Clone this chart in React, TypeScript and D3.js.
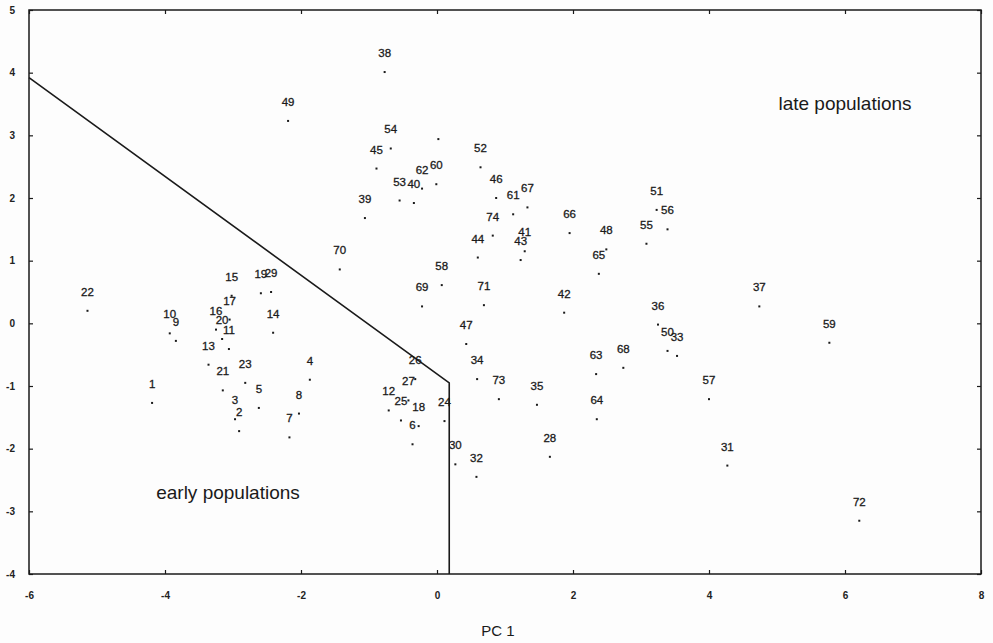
import React, { useEffect, useRef } from 'react';
import * as d3 from 'd3';

// population ids and their scores on the two first components
const ids = ['1', '2', '3', '4', '5', '6', '7', '8', '9', '10', '11', '12', '13', '14', '15', '16', '17', '18', '19', '20',
    '21', '22', '23', '24', '25', '26', '27', '28', '29', '30', '31', '32', '33', '34', '35', '36', '37', '38', '39', '40',
    '41', '42', '43', '44', '45', '46', '47', '48', '49', '50', '51', '52', '53', '54', '55', '56', '57', '58', '59', '60',
    '61', '62', '63', '64', '65', '66', '67', '68', '69', '70', '71', '72', '73', '74', ''];
const pc1 = [-4.19, -2.91, -2.97, -1.87, -2.62, -0.36, -2.17, -2.03, -3.84, -3.93, -3.06, -0.71, -3.36, -2.41, -3.02, -3.25, -3.05, -0.27, -2.59, -3.16,
    -3.15, -5.14, -2.82, 0.11, -0.53, -0.32, -0.42, 1.66, -2.44, 0.27, 4.27, 0.58, 3.53, 0.59, 1.47, 3.25, 4.74, -0.77, -1.06, -0.34,
    1.29, 1.87, 1.23, 0.60, -0.89, 0.87, 0.43, 2.49, -2.19, 3.39, 3.23, 0.64, -0.55, -0.68, 3.08, 3.39, 4.00, 0.07, 5.77, -0.01,
    1.12, -0.22, 2.34, 2.35, 2.38, 1.95, 1.33, 2.74, -0.22, -1.43, 0.69, 6.21, 0.91, 0.82, 0.02];
const pc2 = [-1.27, -1.72, -1.53, -0.90, -1.35, -1.93, -1.82, -1.44, -0.28, -0.16, -0.41, -1.39, -0.66, -0.15, 0.44, -0.10, 0.06, -1.64, 0.48, -0.25,
    -1.07, 0.20, -0.95, -1.56, -1.55, -0.89, -1.23, -2.13, 0.50, -2.25, -2.27, -2.45, -0.52, -0.89, -1.30, -0.02, 0.27, 4.01, 1.68, 1.92,
    1.15, 0.17, 1.01, 1.05, 2.47, 2.00, -0.33, 1.18, 3.23, -0.44, 1.81, 2.49, 1.96, 2.79, 1.27, 1.50, -1.21, 0.61, -0.31, 2.22,
    1.74, 2.15, -0.81, -1.53, 0.79, 1.44, 1.85, -0.71, 0.27, 0.86, 0.29, -3.15, -1.21, 1.40, 2.94];

// dividing line between early and late populations
const boundaryX = [-6, 0.18, 0.18];
const boundaryY = [3.92, -0.95, -4];

const xTicks = [-6, -4, -2, 0, 2, 4, 6, 8];
const yTicks = [-4, -3, -2, -1, 0, 1, 2, 3, 4, 5];

export default function App() {
    const ref = useRef<SVGSVGElement>(null);

    useEffect(() => {
        const width = 993;
        const height = 643;
        const left = 29, right = 981, top = 10, bottom = 574;
        const ink = '#1a1a1a';
        const font = 'Liberation Sans, Arial, sans-serif';

        const svg = d3.select(ref.current);
        svg.selectAll('*').remove();
        svg.attr('width', width).attr('height', height);

        const x = d3.scaleLinear().domain([-6, 8]).range([left, right]);
        const y = d3.scaleLinear().domain([-4, 5]).range([bottom, top]);

        const fmt = (d: d3.NumberValue) => String(d);

        // axes with inward ticks
        const gx = svg.append('g').attr('transform', `translate(0, ${bottom})`)
            .call(d3.axisBottom(x).tickValues(xTicks).tickSize(-4).tickSizeOuter(0).tickPadding(18).tickFormat(fmt));
        const gy = svg.append('g').attr('transform', `translate(${left}, 0)`)
            .call(d3.axisLeft(y).tickValues(yTicks).tickSize(-4).tickSizeOuter(0).tickPadding(14).tickFormat(fmt));
        const gt = svg.append('g').attr('transform', `translate(0, ${top})`)
            .call(d3.axisTop(x).tickValues(xTicks).tickSize(-4).tickSizeOuter(0).tickFormat(() => ''));
        const gr = svg.append('g').attr('transform', `translate(${right}, 0)`)
            .call(d3.axisRight(y).tickValues(yTicks).tickSize(-4).tickSizeOuter(0).tickFormat(() => ''));

        [gx, gy, gt, gr].forEach(g => {
            g.select('.domain').remove();
            g.selectAll('.tick line').attr('stroke', ink).attr('stroke-width', 1.2);
            g.selectAll('.tick text')
                .style('font-size', '10px')
                .style('font-family', font)
                .style('font-weight', 'bold')
                .attr('fill', '#222');
        });

        // frame
        svg.append('rect')
            .attr('x', left).attr('y', top)
            .attr('width', right - left).attr('height', bottom - top)
            .attr('fill', 'none').attr('stroke', ink).attr('stroke-width', 1.5);

        // boundary
        const line = d3.line<number>().x(i => x(boundaryX[i])).y(i => y(boundaryY[i]));
        svg.append('path')
            .attr('d', line(d3.range(boundaryX.length)))
            .attr('fill', 'none').attr('stroke', ink).attr('stroke-width', 1.6);

        // points
        const idx = d3.range(ids.length);
        svg.selectAll('rect.pt')
            .data(idx)
            .enter()
            .append('rect')
            .attr('class', 'pt')
            .attr('x', i => x(pc1[i]) - 1)
            .attr('y', i => y(pc2[i]) - 1)
            .attr('width', 2)
            .attr('height', 2)
            .attr('fill', ink);

        svg.selectAll('text.lbl')
            .data(idx)
            .enter()
            .append('text')
            .attr('class', 'lbl')
            .attr('x', i => x(pc1[i]))
            .attr('y', i => y(pc2[i]) - 15)
            .attr('text-anchor', 'middle')
            .style('font-size', '11.5px')
            .style('font-family', font)
            .attr('fill', ink)
            .attr('stroke', ink)
            .attr('stroke-width', 0.3)
            .text(i => ids[i]);

        // annotations
        svg.append('text')
            .attr('x', 845).attr('y', 110)
            .attr('text-anchor', 'middle')
            .style('font-size', '19px')
            .style('font-family', font)
            .attr('fill', ink)
            .text('late populations');
        svg.append('text')
            .attr('x', 228).attr('y', 499)
            .attr('text-anchor', 'middle')
            .style('font-size', '19px')
            .style('font-family', font)
            .attr('fill', ink)
            .text('early populations');
        svg.append('text')
            .attr('x', 498).attr('y', 636)
            .attr('text-anchor', 'middle')
            .style('font-size', '15px')
            .style('font-family', font)
            .attr('fill', ink)
            .text('PC 1');
    }, []);

    return (
        <div>
            <svg ref={ref} style={{ position: 'absolute', left: 0, top: 0, background: '#fdfdfd' }}></svg>
        </div>
    );
}
